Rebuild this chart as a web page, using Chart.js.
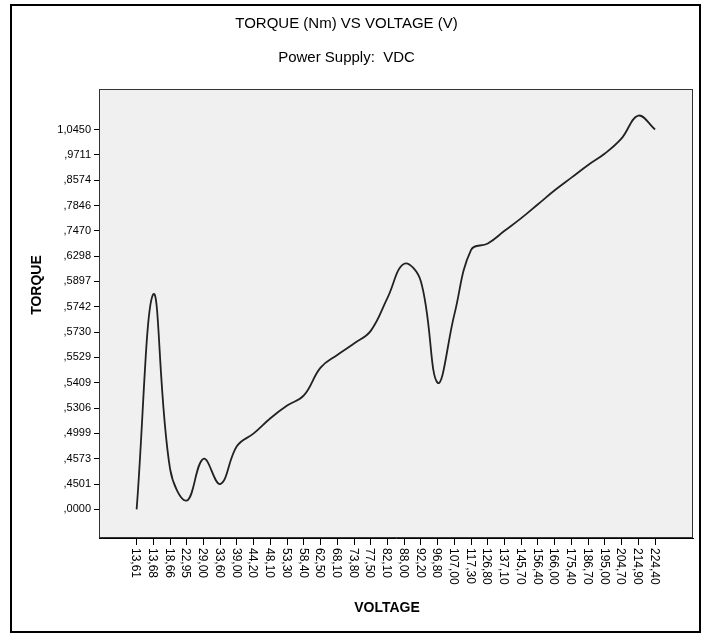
<!DOCTYPE html>
<html>
<head>
<meta charset="utf-8">
<title>Torque vs Voltage</title>
<script src="https://cdn.jsdelivr.net/npm/chart.js@4.4.0/dist/chart.umd.min.js"></script>
<style>
  body { margin: 0; background: #fff; }
  #chart { display: block; }
</style>
</head>
<body>
<canvas id="chart" width="706" height="637"></canvas>
<script>
// Voltage categories (x axis)
const voltages = ['13,61', '13,68', '18,66', '22,95', '29,00', '33,60', '39,00', '44,20',
    '48,10', '53,30', '58,40', '62,50', '68,10', '73,80', '77,50', '82,10', '88,00',
    '92,20', '96,80', '107,00', '117,30', '126,80', '137,10', '145,70', '156,40',
    '166,00', '175,40', '186,70', '195,00', '204,70', '214,90', '224,40'];

// Torque categories on the y axis, bottom to top
const torqueLabels = [',0000', ',4501', ',4573', ',4999', ',5306', ',5409', ',5529', ',5730',
    ',5742', ',5897', ',6298', ',7470', ',7846', ',8574', ',9711', '1,0450'];

// Curve height at each voltage, in y category steps (0 = ,0000 ... 15 = 1,0450)
const torqueLevel = [0, 8.5, 1.6, 0.35, 2.0, 1.0, 2.5, 3.0, 3.6, 4.1, 4.5, 5.6, 6.1, 6.55,
    7.05, 8.35, 9.7, 9.0, 5.0, 7.7, 10.25, 10.5, 11.0, 11.5, 12.05, 12.6, 13.1, 13.6,
    14.05, 14.65, 15.55, 15.0];

const FONT = '"Liberation Sans", Arial, sans-serif';

// Grey plot background, frames, vertical x labels and axis titles
const spssLook = {
    id: 'spssLook',
    beforeDraw(chart) {
        const { ctx, chartArea: a } = chart;
        ctx.save();
        ctx.fillStyle = '#f0f0f0';
        ctx.fillRect(a.left, a.top, a.right - a.left, a.bottom - a.top);
        ctx.restore();
    },
    afterDraw(chart) {
        const { ctx, chartArea: a, scales } = chart;
        ctx.save();

        // outer frame
        ctx.strokeStyle = '#000';
        ctx.lineWidth = 2;
        ctx.strokeRect(11, 5, 689, 627);

        // plot frame
        ctx.lineWidth = 1;
        ctx.strokeStyle = '#333';
        ctx.strokeRect(a.left + 0.5, a.top + 0.5, a.right - a.left - 1, a.bottom - a.top - 1);

        // x labels, read top to bottom
        ctx.fillStyle = '#000';
        ctx.font = '12px ' + FONT;
        ctx.textAlign = 'left';
        ctx.textBaseline = 'middle';
        voltages.forEach((v, i) => {
            ctx.save();
            ctx.translate(scales.x.getPixelForValue(i) - 1, a.bottom + 10);
            ctx.rotate(Math.PI / 2);
            ctx.fillText(v, 0, 0);
            ctx.restore();
        });

        // axis titles
        ctx.font = 'bold 14px ' + FONT;
        ctx.textAlign = 'center';
        ctx.fillText('VOLTAGE', 387, 608);
        ctx.save();
        ctx.translate(37, 285);
        ctx.rotate(-Math.PI / 2);
        ctx.fillText('TORQUE', 0, 0);
        ctx.restore();

        ctx.restore();
    }
};

document.addEventListener('DOMContentLoaded', function() {
    const ctx = document.getElementById('chart').getContext('2d');
    new Chart(ctx, {
        type: 'line',
        data: {
            datasets: [{
                data: torqueLevel.map((y, i) => ({ x: i, y: y })),
                borderColor: '#222',
                borderWidth: 1.8,
                pointRadius: 0,
                tension: 0.4,
                fill: false
            }]
        },
        options: {
            responsive: false,
            animation: false,
            layout: { padding: { left: 0, right: 13, top: 0, bottom: 0 } },
            plugins: {
                legend: { display: false },
                tooltip: { enabled: false },
                title: {
                    display: true,
                    text: 'TORQUE (Nm) VS VOLTAGE (V)',
                    color: '#000',
                    font: { family: FONT, size: 15, weight: 'normal' },
                    padding: { top: 15, bottom: 6 }
                },
                subtitle: {
                    display: true,
                    text: 'Power Supply:  VDC',
                    color: '#000',
                    font: { family: FONT, size: 15, weight: 'normal' },
                    padding: { top: 10, bottom: 22 }
                }
            },
            scales: {
                x: {
                    type: 'linear',
                    min: -2.25,
                    max: 33.27,
                    afterBuildTicks: s => { s.ticks = voltages.map((_, i) => ({ value: i })); },
                    afterFit: s => { s.height = 99; },
                    ticks: { display: false },
                    grid: { drawOnChartArea: false, drawTicks: true, tickLength: 7, color: '#000' },
                    border: { color: '#000' }
                },
                y: {
                    type: 'linear',
                    min: -1.13,
                    max: 16.6,
                    afterBuildTicks: s => { s.ticks = torqueLabels.map((_, i) => ({ value: i })); },
                    afterFit: s => { s.width = 99; },
                    ticks: {
                        callback: v => torqueLabels[v],
                        color: '#000',
                        font: { family: FONT, size: 11 },
                        padding: 3
                    },
                    grid: { drawOnChartArea: false, drawTicks: true, tickLength: 5, color: '#000' },
                    border: { color: '#000' }
                }
            }
        },
        plugins: [spssLook]
    });
});
</script>
</body>
</html>
